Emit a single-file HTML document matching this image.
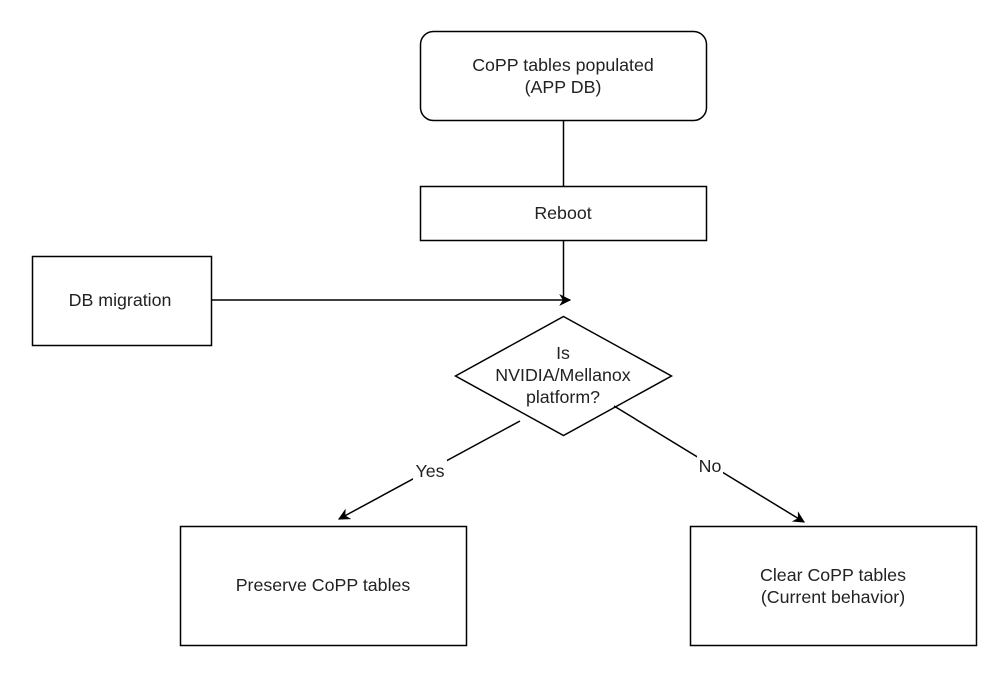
<!DOCTYPE html>
<html><head><style>body{margin:0;background:#fff}svg{display:block}text{font-family:"Liberation Sans",Arial,sans-serif;font-size:17.8px;fill:#222}</style></head>
<body>
<svg width="1007" height="677" viewBox="0 0 1007 677" xmlns="http://www.w3.org/2000/svg">
<defs><marker id="a" viewBox="0 0 10 10" refX="9" refY="5" markerWidth="12" markerHeight="12" markerUnits="userSpaceOnUse" orient="auto"><path d="M0,0 L10,5 L0,10 L3,5 Z" fill="#000"/></marker></defs>
<g stroke="#000" stroke-width="1.5" fill="#fff">
<rect x="420.5" y="31.5" width="286" height="89" rx="13"/>
<rect x="420.5" y="186.5" width="286" height="54"/>
<rect x="32.5" y="256.5" width="179" height="89"/>
<polygon points="563.5,316.5 671.5,376 563.5,435.5 455.5,376"/>
<rect x="180.5" y="526.5" width="286" height="119"/>
<rect x="690.5" y="526.5" width="286" height="119"/>
<line x1="563.5" y1="120.5" x2="563.5" y2="186.5"/>
<line x1="563.5" y1="240.5" x2="563.5" y2="300"/>
<line x1="211.5" y1="300" x2="570" y2="300" marker-end="url(#a)"/>
<line x1="520" y1="421" x2="339" y2="519" marker-end="url(#a)"/>
<line x1="614" y1="406" x2="804" y2="522" marker-end="url(#a)"/>
</g>
<rect x="413" y="460" width="34" height="20" fill="#fff"/>
<rect x="697" y="456" width="26" height="20" fill="#fff"/>
<g text-anchor="middle">
<text x="563" y="71">CoPP tables populated</text>
<text x="563" y="93">(APP DB)</text>
<text x="563" y="219">Reboot</text>
<text x="120" y="306">DB migration</text>
<text x="563" y="359">Is</text>
<text x="563" y="381">NVIDIA/Mellanox</text>
<text x="563" y="403">platform?</text>
<text x="430" y="477">Yes</text>
<text x="710" y="472">No</text>
<text x="323" y="591">Preserve CoPP tables</text>
<text x="833" y="581">Clear CoPP tables</text>
<text x="833" y="603">(Current behavior)</text>
</g>
</svg>
</body></html>
